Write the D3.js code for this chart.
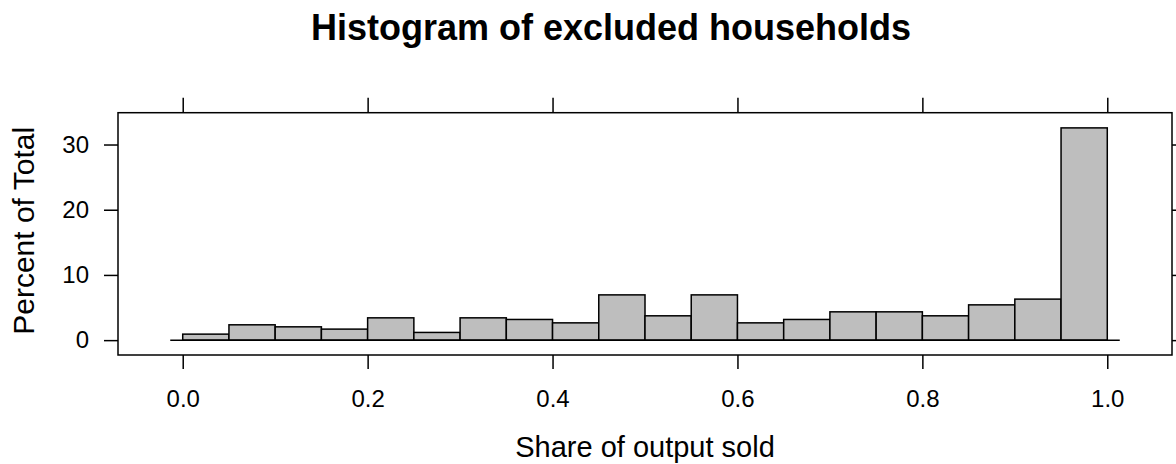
<!DOCTYPE html>
<html>
<head>
<meta charset="utf-8">
<script src="https://cdn.jsdelivr.net/npm/d3@7"></script>
<style>
  html, body { margin: 0; padding: 0; background: #fff; }
  svg { display: block; }
  text { font-family: "Liberation Sans", Arial, Helvetica, sans-serif; fill: #000; }
</style>
</head>
<body>
<svg id="chart" width="1176" height="464"></svg>
<script>
// ---- data ----
const binStarts = [0.00, 0.05, 0.10, 0.15, 0.20, 0.25, 0.30, 0.35, 0.40, 0.45,
                   0.50, 0.55, 0.60, 0.65, 0.70, 0.75, 0.80, 0.85, 0.90, 0.95];
const binWidth = 0.05;
const percents = [0.92, 2.35, 2.04, 1.69, 3.42, 1.18, 3.42, 3.17, 2.65, 6.94,
                  3.73, 6.94, 2.65, 3.17, 4.34, 4.34, 3.73, 5.41, 6.29, 32.55];
const xTicks = [0.0, 0.2, 0.4, 0.6, 0.8, 1.0];
const yTicks = [0, 10, 20, 30];
const xDomain = [-0.07, 1.07];
const yDomain = [-2.28, 34.88];
const baselineRange = [-0.0135, 1.0135];
const titleText = "Histogram of excluded households";
const xLabel = "Share of output sold";
const yLabel = "Percent of Total";

(function () {
  const svg = d3.select("#chart");
  const panel = { left: 118, right: 1172, top: 112.7, bottom: 355 };
  const x = d3.scaleLinear().domain(xDomain).range([panel.left, panel.right]);
  const y = d3.scaleLinear().domain(yDomain).range([panel.bottom, panel.top]);
  const lw = 1.5;

  // bars
  svg.append("g").selectAll("rect")
    .data(binStarts.map((s, i) => ({ s, v: percents[i] })))
    .join("rect")
    .attr("x", d => x(d.s))
    .attr("width", d => x(d.s + binWidth) - x(d.s))
    .attr("y", d => y(d.v))
    .attr("height", d => y(0) - y(d.v))
    .attr("fill", "#bebebe")
    .attr("stroke", "#000")
    .attr("stroke-width", lw);

  // baseline
  svg.append("line")
    .attr("x1", x(baselineRange[0])).attr("x2", x(baselineRange[1]))
    .attr("y1", y(0)).attr("y2", y(0))
    .attr("stroke", "#000").attr("stroke-width", lw);

  // panel border
  svg.append("rect")
    .attr("x", panel.left).attr("y", panel.top)
    .attr("width", panel.right - panel.left).attr("height", panel.bottom - panel.top)
    .attr("fill", "none").attr("stroke", "#000").attr("stroke-width", lw);

  const tickLen = 14;
  const axFont = "24px";

  const gBottom = svg.append("g").attr("transform", `translate(0,${panel.bottom})`)
    .call(d3.axisBottom(x).tickValues(xTicks).tickSize(tickLen).tickPadding(20)
          .tickFormat(d3.format(".1f")));
  const gTop = svg.append("g").attr("transform", `translate(0,${panel.top})`)
    .call(d3.axisTop(x).tickValues(xTicks).tickSize(tickLen + 1).tickFormat(""));
  const gLeft = svg.append("g").attr("transform", `translate(${panel.left},0)`)
    .call(d3.axisLeft(y).tickValues(yTicks).tickSize(tickLen).tickPadding(15)
          .tickFormat(d3.format("d")));
  const gRight = svg.append("g").attr("transform", `translate(${panel.right},0)`)
    .call(d3.axisRight(y).tickValues(yTicks).tickSize(tickLen).tickFormat(""));

  [gBottom, gTop, gLeft, gRight].forEach(g => {
    g.select(".domain").remove();
    g.selectAll(".tick line").attr("stroke", "#000").attr("stroke-width", lw);
    g.selectAll(".tick text")
      .style("font-family", '"Liberation Sans", Arial, Helvetica, sans-serif')
      .style("font-size", axFont).attr("fill", "#000");
  });
  gBottom.selectAll(".tick text").attr("dy", null).attr("y", 51.7);

  // title
  svg.append("text")
    .attr("x", 611).attr("y", 40)
    .attr("text-anchor", "middle")
    .style("font-size", "36px").style("font-weight", "bold")
    .text(titleText);

  // x label
  svg.append("text")
    .attr("x", (panel.left + panel.right) / 2).attr("y", 456.7)
    .attr("text-anchor", "middle")
    .style("font-size", "29px")
    .text(xLabel);

  // y label
  svg.append("text")
    .attr("transform", `translate(33.5,${(panel.top + panel.bottom) / 2 - 3}) rotate(-90)`)
    .attr("text-anchor", "middle")
    .style("font-size", "30px")
    .text(yLabel);
})();
</script>
</body>
</html>
